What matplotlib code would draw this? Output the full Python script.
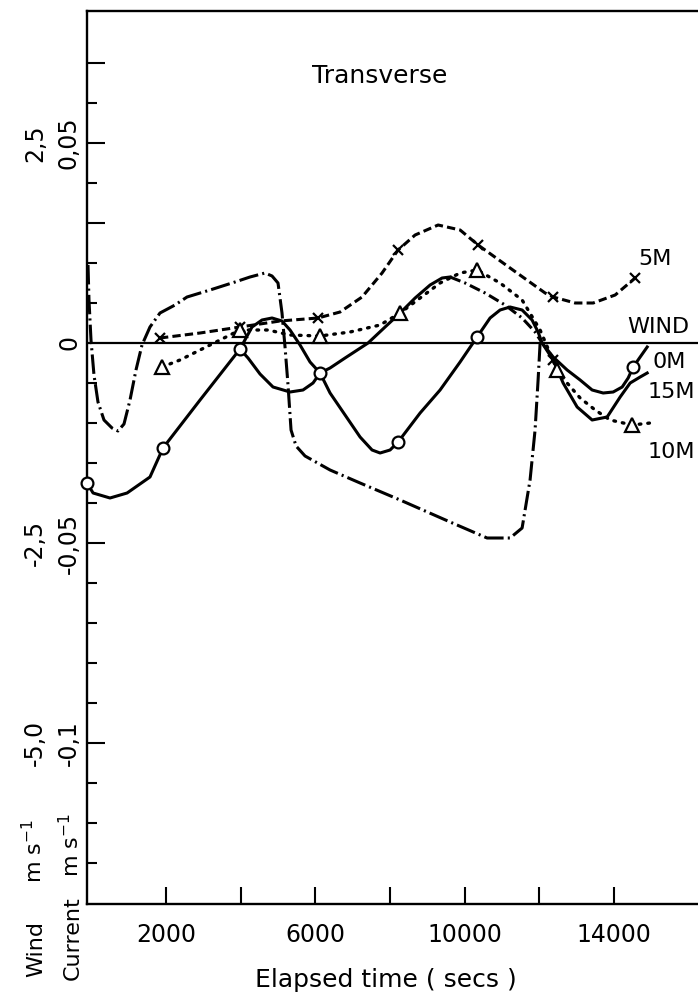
import matplotlib
matplotlib.use('Agg')
import matplotlib.pyplot as plt
from matplotlib.transforms import blended_transform_factory

plt.rcParams['font.family'] = ['DejaVu Sans']
plt.rcParams['lines.scale_dashes'] = False

# ---------------- data (elapsed time in s, transverse current in m/s) ----------------
t_0m = [-115, 48, 501, 959, 1572, 1921, 2913, 3983, 4198, 4519, 4867, 5323, 5671, 5939,
        6127, 6395, 6797, 7199, 7520, 7735, 8003, 8217, 8807, 9342, 9878, 10333, 10681,
        10949, 11217, 11539, 11806, 11967, 12075, 12370, 12745, 13093, 13415, 13710,
        13978, 14219, 14380, 14514, 14701, 14889]
cur_0m = [-0.035, -0.0375, -0.03875, -0.0375, -0.0335, -0.02625, -0.01425, -0.0015,
          -0.00375, -0.00775, -0.011, -0.01225, -0.01175, -0.01, -0.0075, -0.0125, -0.018,
          -0.0235, -0.02675, -0.0275, -0.02675, -0.02475, -0.0175, -0.01175, -0.00475,
          0.0015, 0.00625, 0.00825, 0.009, 0.00825, 0.00575, 0.00275, 0.0, -0.0035,
          -0.00675, -0.00925, -0.01175, -0.0125, -0.01225, -0.011, -0.00875, -0.006,
          -0.0035, -0.001]
obs_0m = [0, 5, 7, 14, 21, 25, 41]

t_5m = [1840, 2913, 3983, 5055, 6073, 6663, 7252, 7788, 8217, 8673, 9289, 9878, 10360,
        11217, 12155, 12370, 12960, 13442, 14031, 14567]
cur_5m = [0.00125, 0.0025, 0.004, 0.0055, 0.00625, 0.00775, 0.0115, 0.0175, 0.02325,
          0.027, 0.0295, 0.02825, 0.0245, 0.01875, 0.0125, 0.0115, 0.01, 0.01, 0.012,
          0.01625]
obs_5m = [0, 2, 4, 8, 12, 15, 19]

t_10m = [1894, 2376, 2913, 3448, 3983, 4734, 5323, 6127, 6931, 7735, 8271, 8807, 9342,
         9878, 10333, 10949, 11539, 12021, 12477, 12745, 13093, 13496, 13897, 14487, 14969]
cur_10m = [-0.006, -0.00425, -0.00175, 0.00075, 0.00325, 0.00325, 0.002, 0.00175,
           0.00275, 0.0045, 0.0075, 0.01125, 0.015, 0.0175, 0.01825, 0.015, 0.01075,
           0.00325, -0.00675, -0.01, -0.01375, -0.01675, -0.01925, -0.0205, -0.02]
obs_10m = [0, 4, 7, 10, 14, 18, 23]

t_15m = [3983, 4305, 4573, 4841, 5108, 5323, 5591, 5859, 6127, 6395, 6797, 7413, 7869,
         8271, 8673, 9075, 9396, 9610, 10012, 10547, 11083, 11539, 11887, 12075, 12370,
         12638, 13013, 13415, 13817, 14165, 14433, 14701, 14889]
cur_15m = [-0.0015, 0.004, 0.00575, 0.00625, 0.0055, 0.00325, -0.0005, -0.00475, -0.0075,
           -0.00625, -0.00375, 0.0, 0.004, 0.0075, 0.01125, 0.0145, 0.01625, 0.0165,
           0.015, 0.0125, 0.0095, 0.00625, 0.00275, 0.0, -0.00425, -0.01, -0.016,
           -0.01925, -0.0185, -0.0135, -0.01, -0.0085, -0.0075]
obs_15m = [24]

t_swing = [-88, -62, -8, 72, 179, 340, 555, 715, 876, 1037, 1197, 1358, 1572, 1840, 2242,
           2564, 3180, 3850, 4251, 4653, 4841, 5001, 5108, 5189, 5269, 5350, 5484, 5725,
           6395, 7199, 8271, 9610, 10601, 11217, 11539, 11752, 11886, 11967, 12021]
cur_swing = [0.0195, 0.01075, 0.00075, -0.008, -0.01475, -0.01925, -0.02125, -0.022,
             -0.02025, -0.01425, -0.00675, -0.0005, 0.004, 0.0075, 0.0095, 0.0115,
             0.01325, 0.01525, 0.0165, 0.0175, 0.01675, 0.015, 0.0075, -0.001, -0.0105,
             -0.02175, -0.02575, -0.02825, -0.03175, -0.035, -0.03925, -0.04475,
             -0.04875, -0.04875, -0.04625, -0.03425, -0.02175, -0.00925, 0.0]

wind_level = 0.0  # transverse wind component

x_ticks = [2000, 4000, 6000, 8000, 10000, 12000, 14000]
x_tick_labels = ['2000', '', '6000', '', '10000', '', '14000']
y_major = [0.07, 0.05, 0.03, -0.05, -0.10]
y_minor = [0.06, 0.04, 0.02, 0.01, -0.01, -0.02, -0.03, -0.04, -0.06, -0.07, -0.08,
           -0.09, -0.11, -0.12, -0.13]
cur_tick_values = [0.05, 0.0, -0.05, -0.1]
cur_tick_labels = ['0,05', '0', '-0,05', '-0,1']
wind_tick_values = [2.5, -2.5, -5.0]
wind_tick_labels = ['2,5', '-2,5', '-5,0']
wind_per_current = 50.0

# ---------------- figure ----------------
W, H = 698, 997
fig = plt.figure(figsize=(W / 100, H / 100), dpi=100)
fx = lambda px: px / W
fy = lambda py: 1 - py / H
ax = fig.add_axes([fx(87), fy(904), (W - 87) / W, (904 - 11) / H])
ax.set_xlim(-115, 16250)
ax.set_ylim(-0.14025, 0.083)

k = 'black'
LW = 2.2
ax.axhline(wind_level, color=k, lw=1.6, zorder=2)

ax.plot(t_swing, cur_swing, color=k, lw=LW, dashes=(14, 3, 1.5, 3), zorder=3,
        clip_on=False)

ax.plot(t_15m[:18], cur_15m[:18], color=k, lw=LW, zorder=3)
ax.plot(t_15m[17:24], cur_15m[17:24], color=k, lw=LW, dashes=(8, 3, 1.5, 3), zorder=3)
ax.plot(t_15m[23:], cur_15m[23:], color=k, lw=LW, zorder=3)
ax.plot([t_15m[i] for i in obs_15m], [cur_15m[i] for i in obs_15m], ls='none',
        marker='x', ms=7, mew=1.6, color=k, zorder=5)

ax.plot(t_5m, cur_5m, color=k, lw=LW, dashes=(6, 3), marker='x', markevery=obs_5m,
        ms=7, mew=1.6, zorder=4)

ax.plot(t_10m, cur_10m, color=k, lw=2.4, dashes=(1.2, 5), dash_capstyle='round',
        marker='^', markevery=obs_10m, ms=9.5, mew=1.6, mfc='white', mec=k, zorder=4)

ax.plot(t_0m, cur_0m, color=k, lw=LW, marker='o', markevery=obs_0m, ms=8.5, mew=1.6,
        mfc='white', mec=k, zorder=5, clip_on=False)

# axes styling
ax.spines['right'].set_visible(False)
for s in ['left', 'top', 'bottom']:
    ax.spines[s].set_linewidth(1.7)
ax.set_xticks(x_ticks)
ax.set_xticklabels(x_tick_labels)
ax.tick_params(axis='x', which='both', direction='in', length=12, width=1.5,
               labelsize=17, pad=14, top=False)
ax.set_yticks(y_major)
ax.set_yticklabels([])
ax.set_yticks(y_minor, minor=True)
ax.tick_params(axis='y', which='major', direction='in', length=13, width=1.5, right=False)
ax.tick_params(axis='y', which='minor', direction='in', length=7, width=1.5, right=False)

# rotated y tick labels (current and wind scales)
bt = blended_transform_factory(fig.transFigure, ax.transData)
for v, s in zip(cur_tick_values, cur_tick_labels):
    fig.text(fx(76), v, s, transform=bt, rotation=90, rotation_mode='anchor',
             ha='center', va='baseline', fontsize=17)
for v, s in zip(wind_tick_values, wind_tick_labels):
    fig.text(fx(42), v / wind_per_current, s, transform=bt, rotation=90,
             rotation_mode='anchor', ha='center', va='baseline', fontsize=17)

# axis titles
fig.text(fx(42), fy(977), 'Wind', rotation=90, rotation_mode='anchor', ha='left',
         va='baseline', fontsize=16)
fig.text(fx(42), fy(883), 'm s$^{-1}$', rotation=90, rotation_mode='anchor', ha='left',
         va='baseline', fontsize=16)
fig.text(fx(79), fy(980), 'Current', rotation=90, rotation_mode='anchor', ha='left',
         va='baseline', fontsize=16)
fig.text(fx(79), fy(877), 'm s$^{-1}$', rotation=90, rotation_mode='anchor', ha='left',
         va='baseline', fontsize=16)
fig.text(fx(386), fy(987), 'Elapsed time ( secs )', ha='center', va='baseline',
         fontsize=18)
fig.text(fx(380), fy(83), 'Transverse', ha='center', va='baseline', fontsize=18)

# curve labels
for s, px, py in [('5M', 638, 265), ('WIND', 627, 333), ('0M', 653, 368),
                  ('15M', 648, 398), ('10M', 648, 458)]:
    fig.text(fx(px), fy(py), s, ha='left', va='baseline', fontsize=16)

fig.savefig('out.png', dpi=100)
